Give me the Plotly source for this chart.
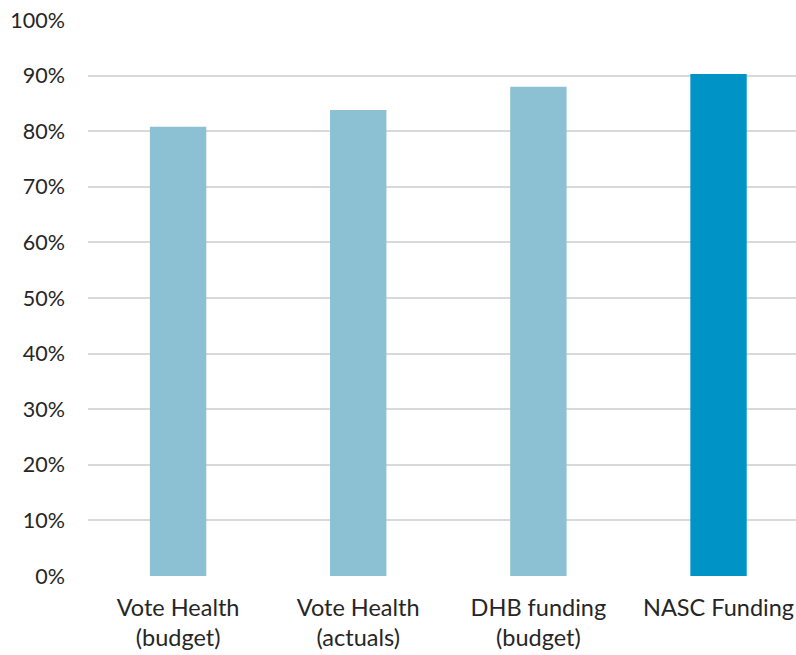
import plotly.graph_objects as go

# Share of funding, by source
categories = ["Vote Health<br>(budget)", "Vote Health<br>(actuals)",
              "DHB funding<br>(budget)", "NASC Funding"]
shares = [0.808, 0.838, 0.880, 0.903]
bar_colors = ["#8BC1D3", "#8BC1D3", "#8BC1D3", "#0094C6"]
y_ticks = [i / 10 for i in range(11)]
y_tick_labels = [f"{i * 10}%" for i in range(11)]

font_family = "Lato, 'Open Sans', sans-serif"

fig = go.Figure(
    go.Bar(
        x=list(range(len(categories))),
        y=shares,
        marker=dict(color=bar_colors, line=dict(width=0)),
        width=0.313,
        hoverinfo="skip",
    )
)

fig.update_layout(
    width=796,
    height=655,
    margin=dict(l=88, r=0, t=20, b=79),
    paper_bgcolor="white",
    plot_bgcolor="white",
    showlegend=False,
    font=dict(family=font_family, size=21, color="#262626"),
    xaxis=dict(
        range=[-0.5, 3.43],
        tickmode="array",
        tickvals=list(range(len(categories))),
        ticktext=categories,
        showgrid=False,
        zeroline=False,
        showline=False,
        ticks="",
        ticklabelstandoff=15,
        tickfont=dict(size=23.5, color="#262626"),
        fixedrange=True,
    ),
    yaxis=dict(
        range=[0, 1],
        tickmode="array",
        tickvals=y_ticks,
        ticktext=y_tick_labels,
        showgrid=True,
        gridcolor="#D9D9D9",
        gridwidth=1.5,
        zeroline=False,
        showline=False,
        ticks="",
        ticklabelstandoff=22,
        tickfont=dict(size=21.5, color="#262626"),
        fixedrange=True,
    ),
)

fig.write_html("out.html")
